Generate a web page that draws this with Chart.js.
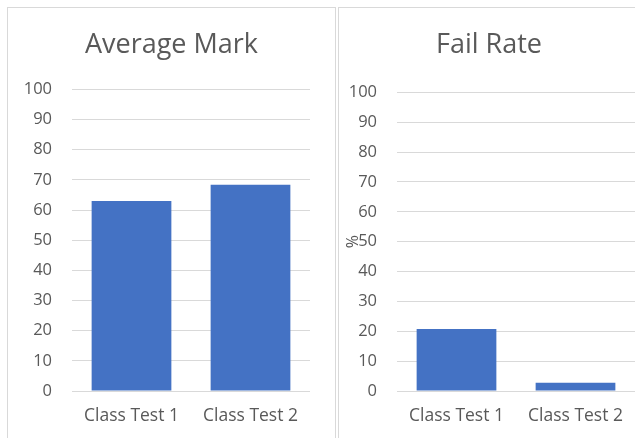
<!DOCTYPE html>
<html>
<head>
<meta charset="utf-8">
<script src="https://cdn.jsdelivr.net/npm/chart.js@4"></script>
<style>
  html, body { margin: 0; padding: 0; background: #fff; overflow: hidden; width: 635px; height: 438px; }
  .box { position: absolute; top: 7px; border: 1px solid #d9d9d9; background: #fff; }
  #leftBox { left: 7px; width: 327px; height: 440px; }
  #rightBox { left: 338px; width: 300px; height: 440px; }
</style>
</head>
<body>
<div class="box" id="leftBox"><canvas id="markChart" width="327" height="430"></canvas></div>
<div class="box" id="rightBox"><canvas id="failChart" width="300" height="430"></canvas></div>
<script>
const categories = ['Class Test 1', 'Class Test 2'];
const averageMark = [63, 68.4];
const failRate = [20.8, 2.8];
const yMin = 0;
const yMax = 100;
const yStep = 10;

const textColor = '#595959';
const gridColor = '#d9d9d9';
const barColor = '#4472c4';
const fontFamily = '"Open Sans", Lato, sans-serif';

// draws the rotated "%" axis label, sitting over the tick labels like the original
const percentLabel = {
  id: 'percentLabel',
  afterDraw(chart) {
    const y = chart.scales.y;
    const ctx = chart.ctx;
    ctx.save();
    ctx.translate(y.left + 14, (y.top + y.bottom) / 2);
    ctx.rotate(-Math.PI / 2);
    ctx.font = '16px ' + fontFamily;
    ctx.fillStyle = textColor;
    ctx.textAlign = 'center';
    ctx.textBaseline = 'middle';
    ctx.fillText('%', 0, 0);
    ctx.restore();
  }
};

function makeChart(id, title, values, axisWidth, rightGap, titleGap, plugins) {
  return new Chart(document.getElementById(id).getContext('2d'), {
    type: 'bar',
    data: {
      labels: categories,
      datasets: [{
        data: values,
        backgroundColor: barColor,
        borderWidth: 0,
        barPercentage: 0.67,
        categoryPercentage: 1
      }]
    },
    plugins: plugins,
    options: {
      responsive: false,
      animation: false,
      layout: { padding: { bottom: 4 } },
      plugins: {
        legend: { display: false },
        tooltip: { enabled: false },
        title: {
          display: true,
          text: title,
          color: textColor,
          font: { family: fontFamily, size: 27, weight: 'normal' },
          padding: { top: 21, bottom: titleGap }
        }
      },
      scales: {
        x: {
          grid: { display: false },
          border: { display: false },
          ticks: { color: textColor, font: { family: fontFamily, size: 17.5 }, padding: 7 }
        },
        y: {
          min: yMin,
          max: yMax,
          afterFit(scale) { scale.width = axisWidth; },
          ticks: { stepSize: yStep, color: textColor, font: { family: fontFamily, size: 16.5 }, padding: 20 },
          grid: { color: gridColor, drawTicks: false },
          border: { display: false }
        },
        // empty right-hand axis, only keeps a blank strip so the title stays centred on the whole box
        gap: {
          position: 'right',
          min: yMin,
          max: yMax,
          afterFit(scale) { scale.width = rightGap; },
          ticks: { display: false },
          grid: { display: false },
          border: { display: false }
        }
      }
    }
  });
}

makeChart('markChart', 'Average Mark', averageMark, 64, 25, 28, []);
makeChart('failChart', 'Fail Rate', failRate, 58, 4, 31, [percentLabel]);
</script>
</body>
</html>
